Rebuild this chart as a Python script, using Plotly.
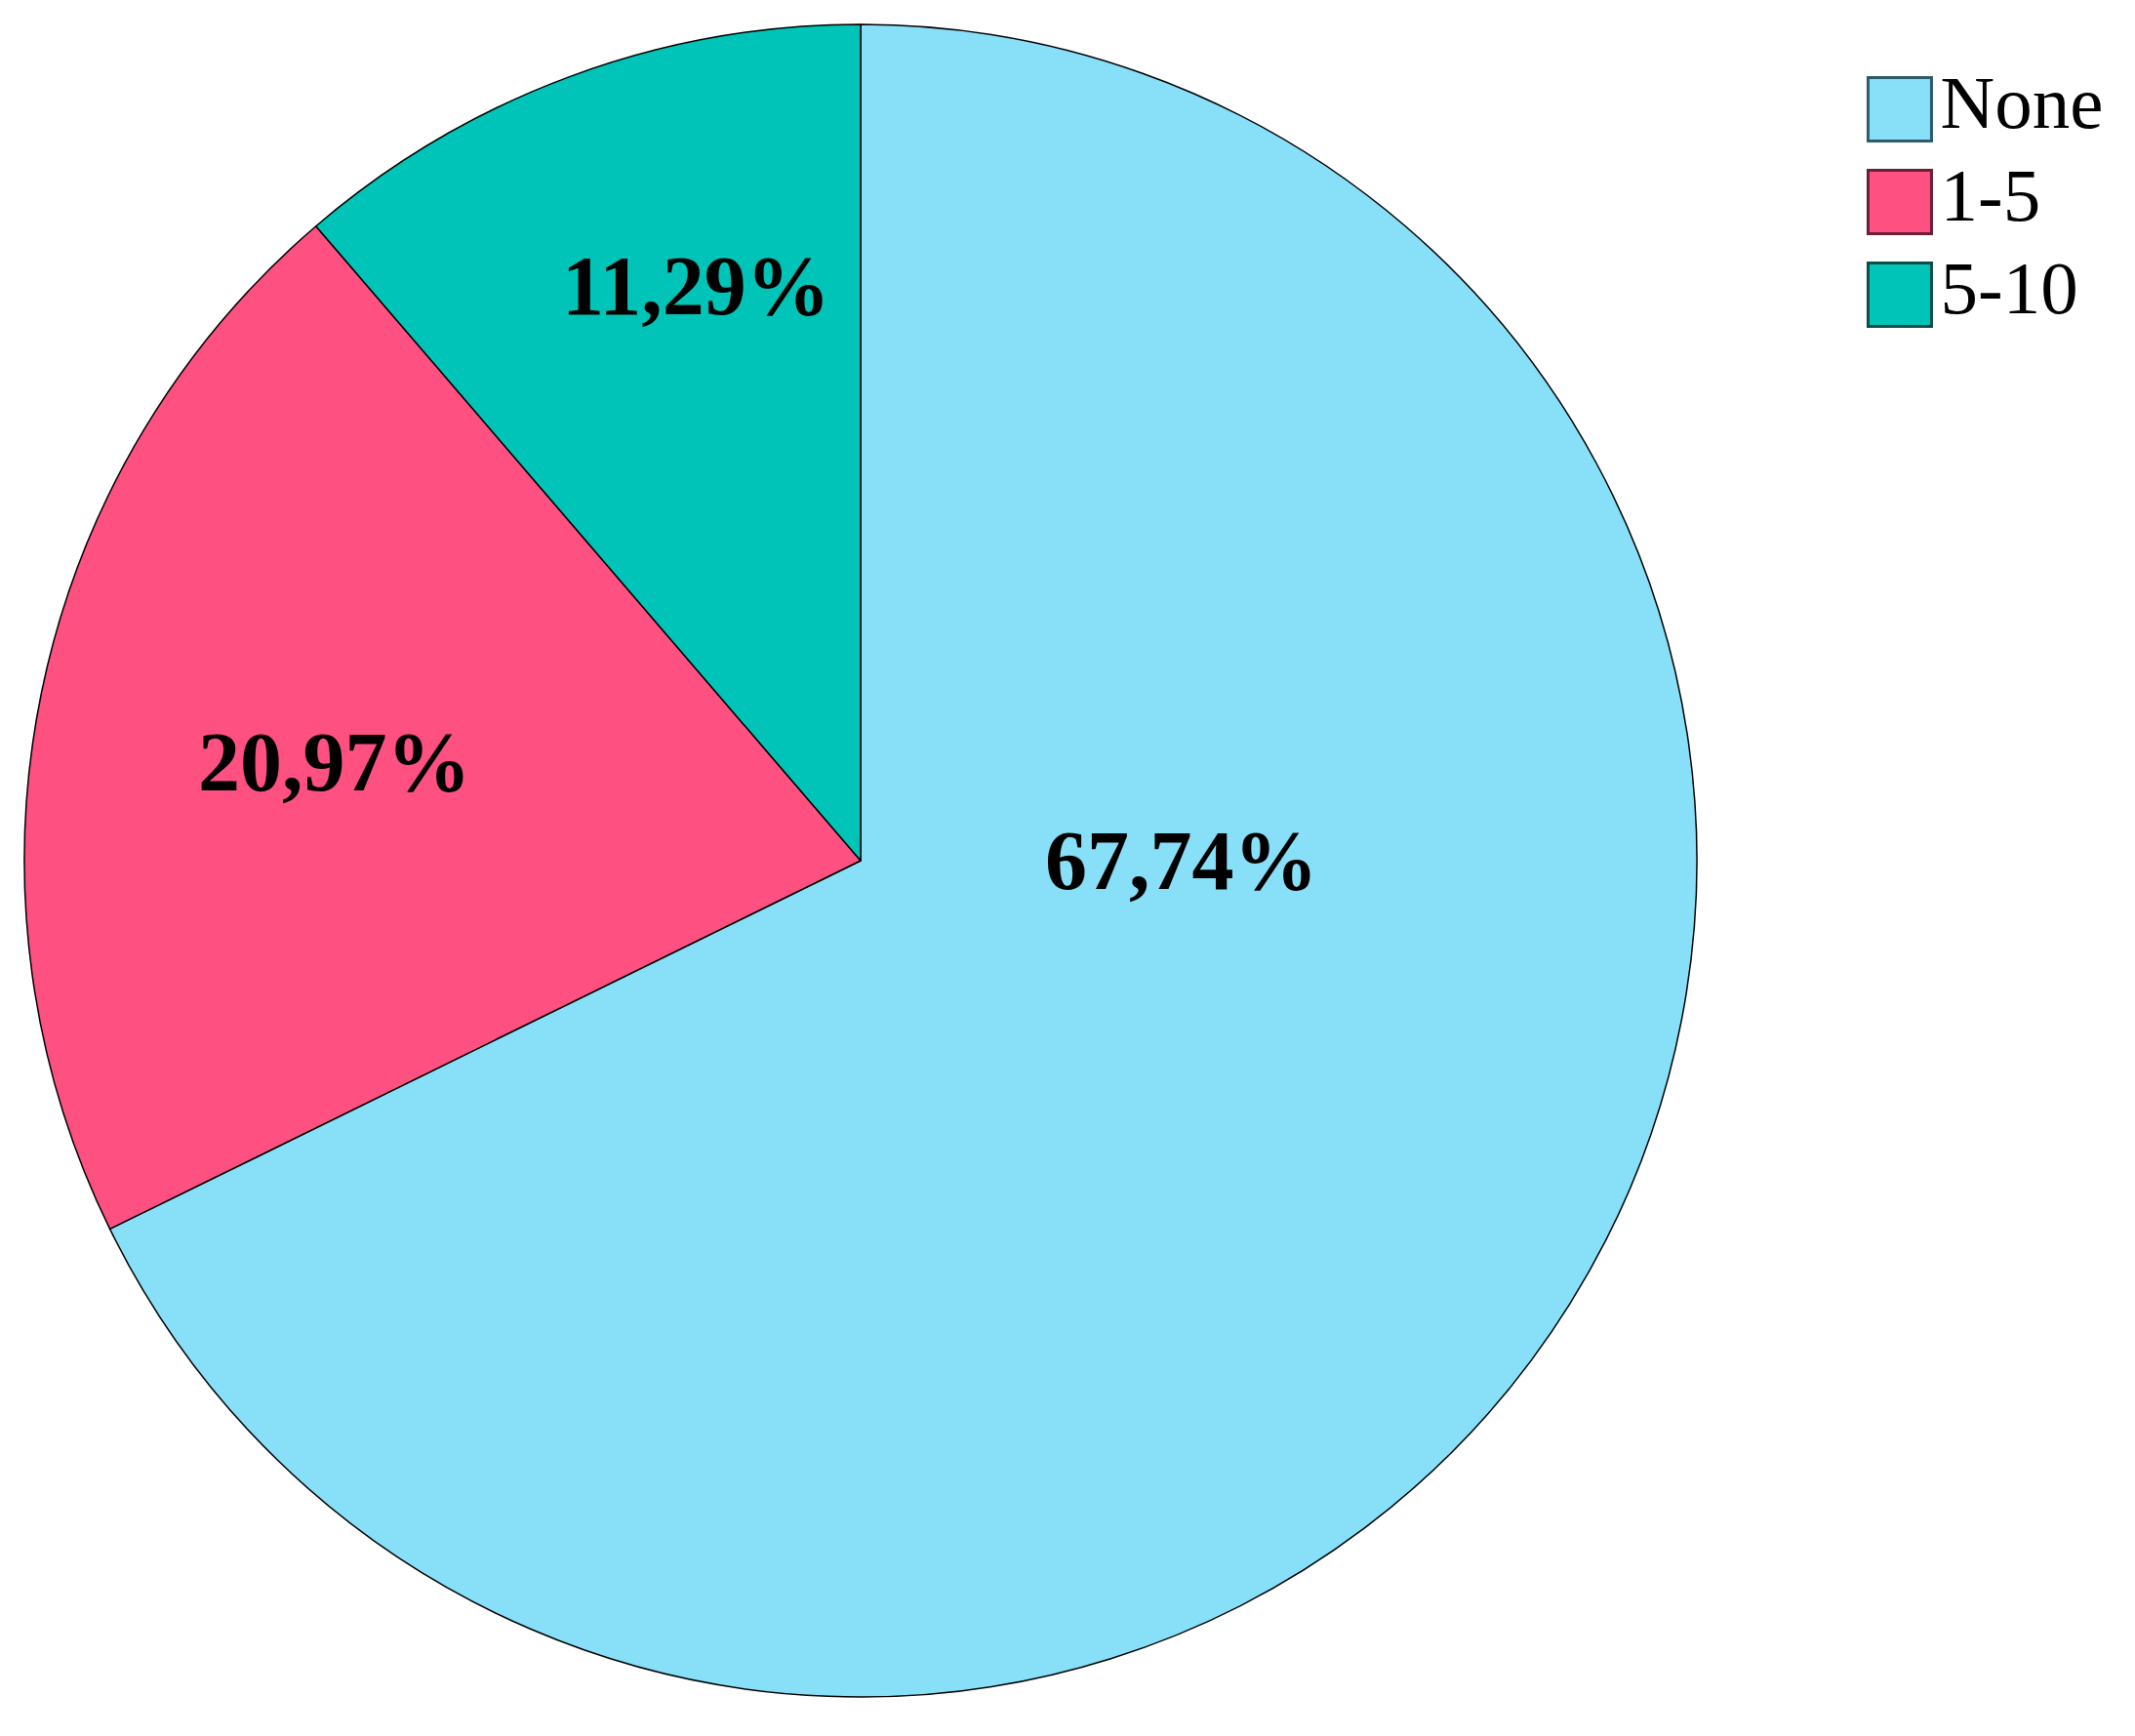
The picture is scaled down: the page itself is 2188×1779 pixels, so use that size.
import plotly.graph_objects as go

# ---------------------------------------------------------------------------
# Data
# ---------------------------------------------------------------------------

categories = ["None", "1-5", "5-10"]
counts = [42, 13, 7]
colors = ["#88DFF8", "#FF5082", "#00C4B7"]
edge_colors = ["#2c5c6a", "#6a1f38", "#0f4d47"]

total = sum(counts)
pct_labels = [f"{100 * c / total:.2f}%".replace(".", ",") for c in counts]

W, H = 2188, 1779
SERIF = "Liberation Serif, Times New Roman, serif"

# pie box (px, from top-left): center and radius
cx, cy, r = 874, 874, 857
# where the percentage labels sit (px, from top-left)
label_pos = [(1203, 874), (335, 773), (705, 285)]

fig = go.Figure()

fig.add_trace(
    go.Pie(
        labels=categories,
        values=counts,
        textinfo="none",
        marker=dict(colors=colors, line=dict(color="black", width=1.5)),
        sort=False,
        direction="clockwise",
        rotation=0,
        hoverinfo="label+percent",
        showlegend=False,
        domain=dict(
            x=[(cx - r) / W, (cx + r) / W],
            y=[(H - cy - r) / H, (H - cy + r) / H],
        ),
    )
)

for txt, (px_, py_) in zip(pct_labels, label_pos):
    fig.add_annotation(
        text=f"<b>{txt}</b>",
        x=px_ / W,
        y=1 - py_ / H,
        xref="paper",
        yref="paper",
        showarrow=False,
        xanchor="center",
        yanchor="middle",
        font=dict(family=SERIF, size=86, color="black"),
    )

# legend drawn as a scatter with big square swatches
fig.add_trace(
    go.Scatter(
        x=[0.187] * len(categories),
        y=categories,
        mode="markers+text",
        text=categories,
        textposition="middle right",
        textfont=dict(family=SERIF, size=77, color="black"),
        marker=dict(
            symbol="square",
            size=65,
            color=colors,
            line=dict(color=edge_colors, width=3),
        ),
        cliponaxis=False,
        hoverinfo="skip",
        showlegend=False,
        xaxis="x",
        yaxis="y",
    )
)

fig.update_layout(
    width=W,
    height=H,
    margin=dict(t=0, b=0, l=0, r=0),
    paper_bgcolor="white",
    plot_bgcolor="rgba(0,0,0,0)",
    showlegend=False,
    xaxis=dict(domain=[0.86, 1.0], range=[0, 1], visible=False, fixedrange=True),
    yaxis=dict(
        domain=[(H - 341.5) / H, (H - 56.5) / H],
        type="category",
        categoryorder="array",
        categoryarray=categories,
        range=[2.5, -0.5],
        visible=False,
        fixedrange=True,
    ),
)

fig.write_html("out.html")
